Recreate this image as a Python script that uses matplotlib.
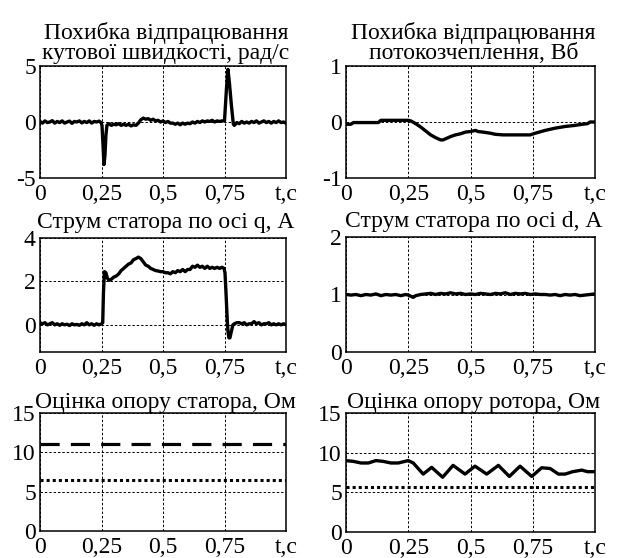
import matplotlib
matplotlib.use("Agg")
import matplotlib.pyplot as plt

plt.rcParams['font.family'] = ['Liberation Serif', 'DejaVu Serif']

# ---------------- data ----------------
# speed error, rad/s
t_w = [0.00, 0.01, 0.02, 0.03, 0.04, 0.05, 0.06, 0.07, 0.08, 0.09, 0.10, 0.11, 0.12, 0.13,
       0.14, 0.15, 0.16, 0.17, 0.18, 0.19, 0.20, 0.21, 0.22, 0.23, 0.24, 0.248, 0.252, 0.256,
       0.260, 0.264, 0.268, 0.272, 0.28, 0.29, 0.30, 0.31, 0.32, 0.33, 0.34, 0.35, 0.36, 0.37,
       0.38, 0.39, 0.40, 0.41, 0.42, 0.43, 0.44, 0.45, 0.46, 0.47, 0.48, 0.49, 0.50, 0.51, 0.52,
       0.53, 0.54, 0.55, 0.56, 0.57, 0.58, 0.59, 0.60, 0.61, 0.62, 0.63, 0.64, 0.65, 0.66, 0.67,
       0.68, 0.69, 0.70, 0.71, 0.72, 0.73, 0.74, 0.750, 0.758, 0.764, 0.770, 0.778, 0.786, 0.79,
       0.80, 0.81, 0.82, 0.83, 0.84, 0.85, 0.86, 0.87, 0.88, 0.89, 0.90, 0.91, 0.92, 0.93, 0.94,
       0.95, 0.96, 0.97, 0.98, 0.99, 1.00]
e_w = [0.05, -0.1, 0.1, -0.05, 0.0, 0.12, -0.1, 0.05, -0.05, 0.1, -0.1, 0.0, 0.08, -0.12,
       0.05, 0.0, 0.1, -0.08, 0.05, -0.05, 0.1, -0.1, 0.05, 0.0, 0.08, -0.05, -0.3, -2.0,
       -3.8, -3.0, -1.2, -0.3, -0.15, -0.3, -0.2, -0.25, -0.15, -0.3, -0.2, -0.3, -0.2, -0.35,
       -0.25, -0.3, -0.1, 0.2, 0.35, 0.25, 0.3, 0.15, 0.25, 0.1, 0.15, 0.0, 0.1, -0.05, 0.05,
       -0.1, -0.1, -0.2, -0.1, -0.25, -0.1, -0.2, -0.1, -0.15, 0.0, -0.1, 0.05, -0.05, 0.1, 0.0,
       0.1, 0.05, 0.15, 0.0, 0.1, 0.05, 0.1, 0.1, 3.0, 4.7, 3.5, 1.5, -0.2, -0.3,
       -0.05, -0.15, 0.05, -0.1, 0.0, -0.1, 0.05, -0.05, 0.1, -0.1, 0.0, 0.1, -0.05, 0.05, -0.1,
       0.05, -0.05, 0.1, -0.05, 0.0, -0.1]

# flux linkage error, Wb
t_psi = [0.00, 0.02, 0.03, 0.08, 0.13, 0.14, 0.20, 0.25, 0.26, 0.28, 0.30, 0.32, 0.34, 0.36,
         0.38, 0.39, 0.40, 0.42, 0.44, 0.46, 0.48, 0.50, 0.52, 0.53, 0.55, 0.58, 0.60, 0.63,
         0.66, 0.70, 0.74, 0.76, 0.80, 0.84, 0.88, 0.92, 0.95, 0.97, 0.98, 1.00]
e_psi = [-0.04, -0.04, -0.01, -0.01, -0.01, 0.03, 0.03, 0.03, 0.02, -0.03, -0.09, -0.16, -0.23, -0.28,
         -0.32, -0.32, -0.3, -0.26, -0.23, -0.21, -0.18, -0.17, -0.15, -0.17, -0.18, -0.2, -0.22, -0.23,
         -0.23, -0.23, -0.23, -0.2, -0.15, -0.11, -0.08, -0.06, -0.04, -0.03, 0.0, 0.0]

# stator current, q axis, A
t_iq = [0.00, 0.01, 0.02, 0.03, 0.04, 0.05, 0.06, 0.07, 0.08, 0.09, 0.10, 0.11, 0.12, 0.13,
        0.14, 0.15, 0.16, 0.17, 0.18, 0.19, 0.20, 0.21, 0.22, 0.23, 0.24, 0.25, 0.255, 0.258,
        0.262, 0.268, 0.274, 0.28, 0.29, 0.30, 0.31, 0.32, 0.33, 0.34, 0.35, 0.36, 0.37, 0.38,
        0.39, 0.40, 0.41, 0.42, 0.43, 0.44, 0.45, 0.46, 0.47, 0.48, 0.49, 0.50, 0.51, 0.52, 0.53,
        0.54, 0.55, 0.56, 0.57, 0.58, 0.59, 0.60, 0.61, 0.62, 0.63, 0.64, 0.65, 0.66, 0.67, 0.68,
        0.69, 0.70, 0.71, 0.72, 0.73, 0.74, 0.748, 0.752, 0.756, 0.760, 0.764, 0.768, 0.772,
        0.778, 0.784, 0.79, 0.80, 0.81, 0.82, 0.83, 0.84, 0.85, 0.86, 0.87, 0.88, 0.89, 0.90,
        0.91, 0.92, 0.93, 0.94, 0.95, 0.96, 0.97, 0.98, 0.99, 1.00]
i_q = [0.1, 0.05, 0.1, 0.0, 0.05, 0.1, 0.0, 0.05, -0.02, 0.05, 0.0, 0.03, -0.03, 0.05,
       0.0, 0.02, -0.02, 0.05, 0.0, 0.1, 0.0, 0.05, -0.02, 0.05, 0.0, 0.05, 0.1, 1.5,
       2.45, 2.4, 2.15, 2.05, 2.1, 2.2, 2.25, 2.35, 2.5, 2.6, 2.7, 2.8, 2.85, 3.0,
       3.05, 3.12, 3.05, 2.9, 2.75, 2.7, 2.6, 2.55, 2.5, 2.48, 2.45, 2.45, 2.4, 2.4, 2.35,
       2.45, 2.4, 2.5, 2.45, 2.55, 2.45, 2.55, 2.55, 2.7, 2.65, 2.75, 2.65, 2.7, 2.6, 2.7,
       2.6, 2.65, 2.6, 2.65, 2.6, 2.65, 2.6, 2.4, 1.5, 0.5, -0.3, -0.6, -0.6,
       -0.3, 0.0, 0.05, 0.1, 0.1, 0.05, 0.1, 0.0, 0.05, 0.05, 0.15, 0.05, 0.1, 0.0,
       0.05, 0.05, 0.1, 0.0, 0.05, 0.0, 0.05, 0.0, 0.05, 0.0]

# stator current, d axis, A
t_id = [0.00, 0.02, 0.04, 0.06, 0.08, 0.10, 0.12, 0.14, 0.16, 0.18, 0.20, 0.22, 0.24, 0.25,
        0.26, 0.27, 0.28, 0.30, 0.32, 0.34, 0.36, 0.38, 0.40, 0.42, 0.44, 0.46, 0.48, 0.50,
        0.52, 0.54, 0.56, 0.58, 0.60, 0.62, 0.64, 0.66, 0.68, 0.70, 0.72, 0.74, 0.76, 0.78,
        0.80, 0.82, 0.84, 0.86, 0.88, 0.90, 0.92, 0.94, 0.96, 0.98, 1.00]
i_d = [1.0, 0.99, 1.0, 0.98, 1.0, 0.99, 1.01, 0.98, 1.0, 0.99, 1.0, 0.98, 1.0, 0.99,
       0.97, 0.95, 0.98, 1.0, 1.01, 1.02, 1.0, 1.02, 1.01, 1.03, 1.01, 1.02, 1.0, 1.01,
       1.0, 1.02, 1.01, 1.0, 1.02, 1.01, 1.03, 1.0, 1.02, 1.01, 1.02, 1.0, 1.01, 1.0,
       1.0, 0.99, 1.0, 0.98, 1.0, 0.99, 1.0, 0.98, 0.99, 1.0, 1.01]

# stator resistance estimate, Ohm
t_rs = [0.0, 1.0]
rs_dashed = [11.0, 11.0]
rs_dotted = [6.5, 6.5]

# rotor resistance estimate, Ohm
t_rr = [0.00, 0.03, 0.06, 0.09, 0.12, 0.15, 0.18, 0.21, 0.25, 0.27, 0.31, 0.344, 0.388,
        0.43, 0.478, 0.518, 0.565, 0.612, 0.656, 0.699, 0.746, 0.786, 0.82, 0.853, 0.88,
        0.91, 0.947, 0.97, 1.00]
rr = [9.0, 8.9, 8.7, 8.7, 9.0, 8.9, 8.7, 8.7, 9.0, 8.7, 7.3, 8.15, 6.9,
      8.4, 7.3, 8.3, 7.3, 8.4, 7.0, 8.3, 7.0, 8.1, 8.0, 7.3, 7.3,
      7.6, 7.8, 7.6, 7.6]
t_rr_ref = [0.0, 1.0]
rr_ref = [5.7, 5.7]

x_ticks = [0, 0.25, 0.5, 0.75, 1.0]
x_labels = ['0', '0,25', '0,5', '0,75', 't,c']

titles = ['Похибка відпрацювання\nкутової швидкості, рад/с',
          'Похибка відпрацювання\nпотокозчеплення, Вб',
          'Струм статора по осі q, А',
          'Струм статора по осі d, А',
          'Оцінка опору статора, Ом',
          'Оцінка опору ротора, Ом']

# ---------------- layout ----------------
W, H = 621, 558
fig = plt.figure(figsize=(W / 100, H / 100), dpi=100)

def mk(l, t, r, b):
    return fig.add_axes([l / W, 1 - b / H, (r - l) / W, (b - t) / H])

axes = [mk(40, 66, 286, 178), mk(346, 66, 595, 178),
        mk(40, 238, 286, 352), mk(346, 237, 595, 352),
        mk(40, 413, 286, 531), mk(346, 413, 595, 532)]

FS_T = 17
FS_TITLE = 17
LW = 2.4
grid_kw = dict(color='black', linestyle=(0, (2.5, 2)), linewidth=0.7)

def style(ax, yticks, ylim, title, title_pad):
    ax.set_xlim(0, 1)
    ax.set_ylim(*ylim)
    ax.set_xticks(x_ticks)
    ax.set_xticklabels(x_labels)
    ax.set_yticks(yticks)
    ax.set_yticklabels([str(v) for v in yticks])
    ax.tick_params(length=0, labelsize=FS_T, pad=4)
    ax.tick_params(axis='y', pad=3)
    for s in ax.spines.values():
        s.set_linewidth(1.1)
    ax.grid(True, **grid_kw)
    ax.set_axisbelow(True)
    ax.annotate(title, xy=(0.5, 1.0), xycoords='axes fraction',
                xytext=(2, title_pad), textcoords='offset points',
                ha='center', va='bottom', fontsize=FS_TITLE, linespacing=0.92)

ax = axes[0]
ax.plot(t_w, e_w, color='black', lw=LW)
style(ax, [-5, 0, 5], (-5, 5), titles[0], 1.5)

ax = axes[1]
ax.plot(t_psi, e_psi, color='black', lw=LW)
style(ax, [-1, 0, 1], (-1, 1), titles[1], 1.5)

ax = axes[2]
ax.plot(t_iq, i_q, color='black', lw=LW)
style(ax, [0, 2, 4], (-1.25, 4), titles[2], 3.5)

ax = axes[3]
ax.plot(t_id, i_d, color='black', lw=LW)
style(ax, [0, 1, 2], (0, 2), titles[3], 3.5)

ax = axes[4]
ax.plot(t_rs, rs_dashed, color='black', lw=2.3, linestyle=(0, (6, 3.5)))
ax.plot(t_rs, rs_dotted, color='black', lw=2.2, linestyle=(0, (1, 1)))
style(ax, [0, 5, 10, 15], (0, 15), titles[4], 0.3)

ax = axes[5]
ax.plot(t_rr, rr, color='black', lw=LW)
ax.plot(t_rr_ref, rr_ref, color='black', lw=2.2, linestyle=(0, (1, 1)))
style(ax, [0, 5, 10, 15], (0, 15), titles[5], 0.3)

fig.savefig('out.png', dpi=100)
